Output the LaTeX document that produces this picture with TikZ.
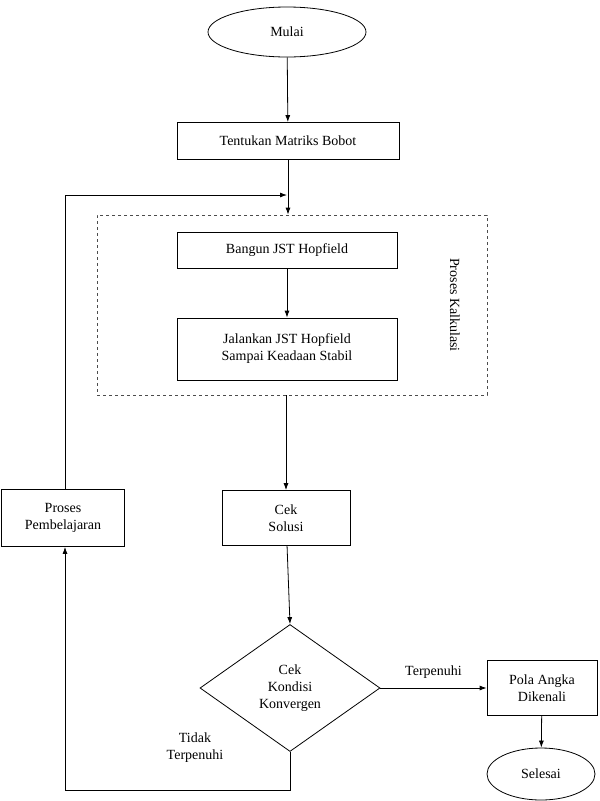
\documentclass[tikz,border=0pt]{standalone}
\usepackage{fontspec}
\setmainfont{Liberation Serif}
\usetikzlibrary{shapes.geometric,arrows.meta}
\begin{document}
\begin{tikzpicture}[x=1pt,y=-1pt,
  box/.style={draw,thick,align=center,font=\fontsize{14}{17}\selectfont,inner sep=0pt},
  arr/.style={thick,-{Latex[length=7pt,width=5pt]}},
  lbl/.style={font=\fontsize{14}{17}\selectfont,align=center}]
\useasboundingbox (0,0) rectangle (600,801);
\fill[white] (0,0) rectangle (600,801);
\node[box,ellipse,minimum width=158,minimum height=50] (mulai) at (287,32) {Mulai};
\node[box,minimum width=222,minimum height=37] (tentukan) at (288,141) {Tentukan Matriks Bobot};
\node[draw,dashed,thick,gray!60!black,minimum width=390,minimum height=180,inner sep=0pt] (kalk) at (292,305) {};
\node[box,minimum width=220,minimum height=36] (bangun) at (287,250) {Bangun JST Hopfield};
\node[box,minimum width=220,minimum height=62] (jalan) at (287,349) {Jalankan JST Hopfield\\Sampai Keadaan Stabil};
\node[lbl,rotate=-90] (pk) at (455,305) {Proses Kalkulasi};
\node[box,minimum width=128,minimum height=55] (cek) at (286,518) {Cek\\Solusi};
\node[box,diamond,aspect=1.42,minimum width=180,minimum height=127] (kond) at (290,688) {Cek\\Kondisi\\Konvergen};
\node[box,minimum width=110,minimum height=55] (pola) at (542,688) {Pola Angka\\Dikenali};
\node[box,ellipse,minimum width=108,minimum height=52] (selesai) at (541,774) {Selesai};
\node[box,minimum width=123,minimum height=57] (belajar) at (63,518) {Proses\\Pembelajaran};
\coordinate (j) at (287,195);
\coordinate (c1) at (290,790);
\coordinate (c2) at (65,790);
\coordinate (c3) at (65,195);
\draw[arr] (mulai) -- (tentukan);
\draw[arr] (tentukan) -- (kalk.north -| tentukan);
\draw[arr] (bangun) -- (jalan);
\draw[arr] (kalk.south -| cek) -- (cek);
\draw[arr] (cek) -- (kond.north);
\draw[arr] (kond.east) -- node[lbl,above=6pt] {Terpenuhi} (pola.west);
\draw[arr] (pola) -- (selesai);
\draw[arr] (kond.south) -- (c1) -- (c2) -- (belajar.south -| c2);
\draw[arr] (belajar.north -| c3) -- (c3) -- (j);
\node[lbl] (tt) at (195,748) {Tidak\\Terpenuhi};
\end{tikzpicture}
\end{document}
